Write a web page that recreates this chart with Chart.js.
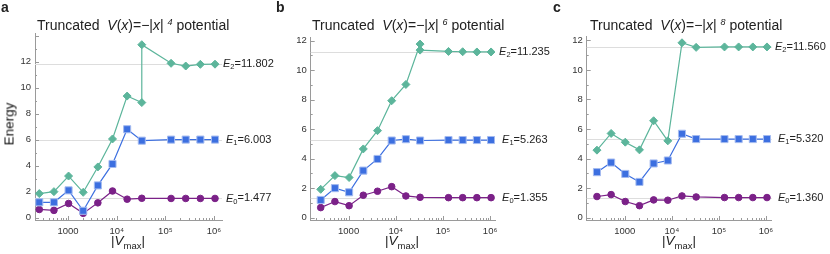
<!DOCTYPE html>
<html>
<head>
<meta charset="utf-8">
<script src="https://cdn.jsdelivr.net/npm/chart.js@4.4.1/dist/chart.umd.min.js"></script>
<style>
body { margin: 0; background: #fff; width: 830px; height: 254px; overflow: hidden; position: relative;
       font-family: "Liberation Sans", Arial, sans-serif; color: #222; }
.panel { position: absolute; top: 0; height: 254px; }
canvas { display: block; }
.txt { position: absolute; white-space: nowrap; line-height: 15px; }
.letter { font-weight: bold; font-size: 14px; top: 0; }
.title { font-size: 14px; top: 18px; }
.title sup { font-size: 9px; vertical-align: top; position: relative; top: -3px; }
.xtitle { font-size: 13.5px; top: 233px; transform: translateX(-50%); }
.xtitle sub { font-size: 9.5px; vertical-align: baseline; position: relative; top: 4px; }
.ytitle { font-size: 13.5px; left: 9px; top: 124px; color: #111; transform: translate(-50%, -50%) rotate(-90deg); }
</style>
</head>
<body>
<div class="panel" style="left:0;width:277px"><canvas id="ca" width="277" height="254"></canvas></div>
<div class="panel" style="left:277px;width:277px"><canvas id="cb" width="277" height="254"></canvas></div>
<div class="panel" style="left:554px;width:276px"><canvas id="cc" width="276" height="254"></canvas></div>

<div class="txt letter" style="left:1px">a</div>
<div class="txt letter" style="left:276px">b</div>
<div class="txt letter" style="left:553px">c</div>

<div class="txt title" style="left:37px">Truncated&nbsp; <i>V</i>(<i>x</i>)=−|<i>x</i>|&nbsp;<sup><i>4</i></sup>&nbsp;potential</div>
<div class="txt title" style="left:312px">Truncated&nbsp; <i>V</i>(<i>x</i>)=−|<i>x</i>|&nbsp;<sup><i>6</i></sup>&nbsp;potential</div>
<div class="txt title" style="left:590px">Truncated&nbsp; <i>V</i>(<i>x</i>)=−|<i>x</i>|&nbsp;<sup><i>8</i></sup>&nbsp;potential</div>

<div class="txt xtitle" style="left:128px">|<i>V</i><sub>max</sub>|</div>
<div class="txt xtitle" style="left:402px">|<i>V</i><sub>max</sub>|</div>
<div class="txt xtitle" style="left:679px">|<i>V</i><sub>max</sub>|</div>
<div class="txt ytitle">Energy</div>

<script>
// |Vmax| values (2^8 ... 2^20, no 2^16)
const vmax = [256, 512, 1024, 2048, 4096, 8192, 16384, 32768, 131072, 262144, 524288, 1048576];
// E2 runs in a and b have two values at 32768
const vmaxDup = [256, 512, 1024, 2048, 4096, 8192, 16384, 32768, 32768, 131072, 262144, 524288, 1048576];

// panel a: |x|^4
const e0A = [0.63, 0.56, 1.09, 0.33, 1.14, 2.05, 1.42, 1.49, 1.477, 1.477, 1.477, 1.477];
const e1A = [1.18, 1.18, 2.1, 0.53, 2.48, 4.13, 6.8, 5.92, 6.0, 6.003, 6.003, 6.003];
const e2A = [1.85, 2.0, 3.2, 1.95, 3.9, 6.05, 9.35, 8.85, 13.3, 11.87, 11.66, 11.79, 11.802];

// panel b: |x|^6
const e0B = [0.68, 1.09, 0.81, 1.52, 1.79, 2.1, 1.47, 1.38, 1.355, 1.355, 1.355, 1.355];
const e1B = [1.2, 2.0, 1.72, 3.19, 3.98, 5.23, 5.32, 5.23, 5.263, 5.263, 5.263, 5.263];
const e2B = [1.92, 2.85, 2.72, 4.66, 5.9, 7.93, 9.03, 11.77, 11.36, 11.27, 11.25, 11.235, 11.235];

// panel c: |x|^8
const e0C = [1.43, 1.56, 1.09, 0.81, 1.2, 1.18, 1.47, 1.4, 1.36, 1.36, 1.36, 1.36];
const e1C = [3.08, 3.73, 2.96, 2.42, 3.67, 3.87, 5.68, 5.32, 5.32, 5.32, 5.32, 5.32];
const e2C = [4.57, 5.7, 5.11, 4.59, 6.56, 5.2, 11.84, 11.53, 11.56, 11.56, 11.56, 11.56];

// converged levels written at the right
const limitsA = [1.477, 6.003, 11.802];
const limitsB = [1.355, 5.263, 11.235];
const limitsC = [1.360, 5.320, 11.560];

const yTicks = [0, 2, 4, 6, 8, 10, 12];
const xTicks = [1000, 10000, 100000, 1000000];
const xTickLabels = ['1000', '10⁴', '10⁵', '10⁶'];

const FONT = '"Liberation Sans", Arial, sans-serif';
const AXIS = '#9a9a9a';

// grey level lines, inward frame ticks and the E_n labels
const energyLines = {
    id: 'energyLines',
    beforeDatasetsDraw(chart, args, opts) {
        const { ctx, chartArea: a, scales: { x, y } } = chart;
        ctx.save();
        ctx.lineWidth = 1;
        ctx.strokeStyle = '#dddddd';
        opts.levels.forEach(v => {
            const py = Math.round(y.getPixelForValue(v)) + 0.5;
            ctx.beginPath(); ctx.moveTo(a.left, py); ctx.lineTo(a.right, py); ctx.stroke();
        });
        ctx.strokeStyle = AXIS;
        ctx.beginPath();
        for (let v = 0; v <= y.max; v++) {
            const py = Math.round(y.getPixelForValue(v)) + 0.5;
            ctx.moveTo(a.left, py); ctx.lineTo(a.left + (v % 2 ? 2 : 4), py);
        }
        for (let e = 2; e <= 6; e++) {
            for (let m = 1; m <= 9; m++) {
                const v = m * Math.pow(10, e);
                if (v < x.min || v > x.max) continue;
                const px = Math.round(x.getPixelForValue(v)) + 0.5;
                ctx.moveTo(px, a.bottom); ctx.lineTo(px, a.bottom - (m === 1 ? 4 : 2));
            }
        }
        ctx.stroke();
        ctx.restore();
    },
    afterDatasetsDraw(chart, args, opts) {
        const { ctx, scales: { x, y } } = chart;
        const lastX = x.getPixelForValue(vmax[vmax.length - 1]);
        ctx.save();
        ctx.fillStyle = '#222';
        ctx.textBaseline = 'middle';
        opts.levels.forEach((v, i) => {
            let px = lastX + opts.offsets[i];
            const py = y.getPixelForValue(v);
            ctx.font = 'italic 11px ' + FONT;
            ctx.fillText('E', px, py);
            px += ctx.measureText('E').width;
            ctx.font = '7.5px ' + FONT;
            ctx.fillText(String(i), px, py + 3);
            px += ctx.measureText(String(i)).width;
            ctx.font = '11px ' + FONT;
            ctx.fillText('=' + v.toFixed(3), px, py);
        });
        ctx.restore();
    }
};

function series(xs, ys, color, style, radius, border) {
    return {
        data: xs.map((v, i) => ({ x: v, y: ys[i] })),
        borderColor: color,
        borderWidth: 1.2,
        pointStyle: style,
        pointRadius: radius,
        pointBackgroundColor: color,
        pointBorderColor: border || color,
        pointBorderWidth: 1,
        tension: 0
    };
}

function makePanel(id, e0, e1, e2, x2, limits, xr, yr, pad) {
    const purple = series(vmax, e0, '#7b2188', 'circle', 3.3);
    const blue = series(vmax, e1, '#3c6fe0', 'rect', 5, '#a4bbf0');
    const green = series(x2, e2, '#5cb59b', 'rectRot', 4);
    purple.order = 2; blue.order = 0; green.order = 1;

    new Chart(document.getElementById(id), {
        type: 'line',
        data: { datasets: [purple, blue, green] },
        options: {
            responsive: false,
            animation: false,
            layout: { padding: pad },
            plugins: {
                legend: { display: false },
                tooltip: { enabled: false },
                energyLines: { levels: limits, offsets: [11, 11, 8] }
            },
            scales: {
                x: {
                    type: 'logarithmic',
                    min: xr[0], max: xr[1],
                    grid: { display: false, drawTicks: false },
                    border: { color: AXIS, width: 1 },
                    afterBuildTicks: s => { s.ticks = xTicks.map(v => ({ value: v })); },
                    afterFit: s => { s.height = 24; },
                    ticks: {
                        autoSkip: false, maxRotation: 0, padding: 6, color: '#333',
                        font: { family: FONT, size: 9.5 },
                        callback: v => xTickLabels[xTicks.indexOf(v)]
                    }
                },
                y: {
                    min: yr[0], max: yr[1],
                    grid: { display: false, drawTicks: false },
                    border: { color: AXIS, width: 1 },
                    afterBuildTicks: s => { s.ticks = yTicks.map(v => ({ value: v })); },
                    afterFit: s => { s.width = 20; },
                    ticks: { padding: 4, color: '#333', font: { family: FONT, size: 9.5 } }
                }
            }
        },
        plugins: [energyLines]
    });
}

makePanel('ca', e0A, e1A, e2A, vmaxDup, limitsA, [209, 1.46e6], [-0.18, 14.2],
    { left: 15, right: 55, top: 33, bottom: 10 });
makePanel('cb', e0B, e1B, e2B, vmaxDup, limitsB, [157, 1.27e6], [-0.16, 12.25],
    { left: 13.7, right: 59, top: 37, bottom: 10 });
makePanel('cc', e0C, e1C, e2C, vmax, limitsC, [155, 1.32e6], [-0.16, 12.3],
    { left: 12.7, right: 58.3, top: 36, bottom: 10 });
</script>
</body>
</html>
